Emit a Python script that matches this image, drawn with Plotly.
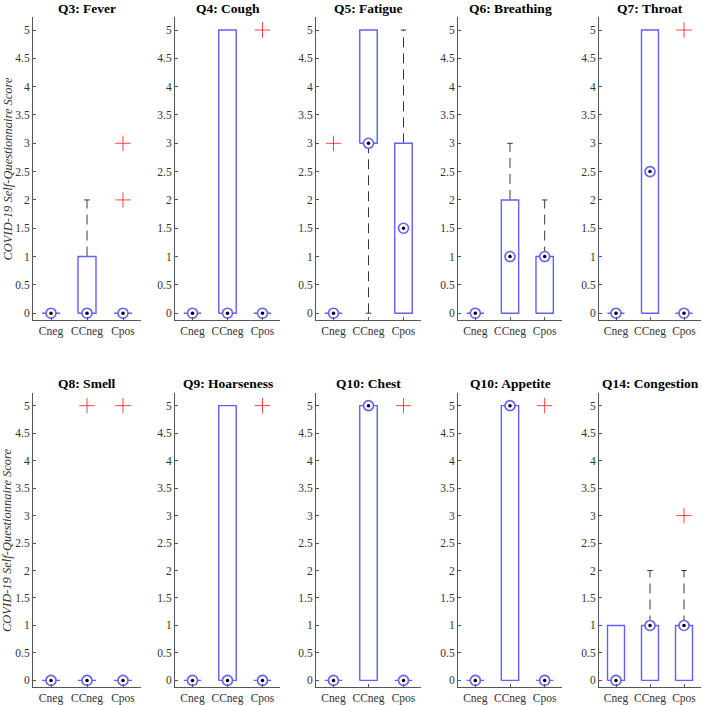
import plotly.graph_objects as go

titles = ["Q3: Fever", "Q4: Cough", "Q5: Fatigue", "Q6: Breathing", "Q7: Throat",
          "Q8: Smell", "Q9: Hoarseness", "Q10: Chest", "Q10: Appetite", "Q14: Congestion"]
groups = ["Cneg", "CCneg", "Cpos"]

q1 = [[0, 0, 0], [0, 0, 0], [0, 3, 0], [0, 0, 0], [0, 0, 0],
      [0, 0, 0], [0, 0, 0], [0, 0, 0], [0, 0, 0], [0, 0, 0]]
q3 = [[0, 1, 0], [0, 5, 0], [0, 5, 3], [0, 2, 1], [0, 5, 0],
      [0, 0, 0], [0, 5, 0], [0, 5, 0], [0, 5, 0], [1, 1, 1]]
median = [[0, 0, 0], [0, 0, 0], [0, 3, 1.5], [0, 1, 1], [0, 2.5, 0],
          [0, 0, 0], [0, 0, 0], [0, 5, 0], [0, 5, 0], [0, 1, 1]]
whisk_lo = [[0, 0, 0], [0, 0, 0], [0, 0, 0], [0, 0, 0], [0, 0, 0],
            [0, 0, 0], [0, 0, 0], [0, 0, 0], [0, 0, 0], [0, 0, 0]]
whisk_hi = [[0, 2, 0], [0, 5, 0], [0, 5, 5], [0, 3, 2], [0, 5, 0],
            [0, 0, 0], [0, 5, 0], [0, 5, 0], [0, 5, 0], [1, 2, 2]]
outliers = [[[], [], [2, 3]], [[], [], [5]], [[3], [], []], [[], [], []], [[], [], [5]],
            [[], [5], [5]], [[], [], [5]], [[], [], [5]], [[], [], [5]], [[], [], [3]]]

ytickvals = [0, 0.5, 1, 1.5, 2, 2.5, 3, 3.5, 4, 4.5, 5]
yticktext = ["0", "0.5", "1", "1.5", "2", "2.5", "3", "3.5", "4", "4.5", "5"]

W, H = 703, 705
BLUE = "#6060ff"
RED = "#ff3030"
half_box = 0.25
half_cap = 0.08

left_px = [33, 175, 316, 458, 599]
width_px = [108, 105, 105, 104, 102]
row_top_px = [17, 393]
row_bot_px = [320, 687]
title_px = [8, 383]
yrange = [-0.12, 5.23]

fig = go.Figure()
annotations = []
layout_axes = {}

for p in range(10):
    r, c = divmod(p, 5)
    idx = p + 1
    xa = "x" if idx == 1 else f"x{idx}"
    ya = "y" if idx == 1 else f"y{idx}"
    xs = [1, 2, 3]

    bx, by = [], []
    wx, wy = [], []
    cx, cy = [], []
    ox, oy = [], []
    for g in range(3):
        x = xs[g]
        bx += [x - half_box, x + half_box, x + half_box, x - half_box, x - half_box, None]
        by += [q1[p][g], q1[p][g], q3[p][g], q3[p][g], q1[p][g], None]
        if whisk_hi[p][g] > q3[p][g]:
            wx += [x, x, None]
            wy += [q3[p][g], whisk_hi[p][g], None]
            cx += [x - half_cap, x + half_cap, None]
            cy += [whisk_hi[p][g], whisk_hi[p][g], None]
        if whisk_lo[p][g] < q1[p][g]:
            wx += [x, x, None]
            wy += [q1[p][g], whisk_lo[p][g], None]
            cx += [x - half_cap, x + half_cap, None]
            cy += [whisk_lo[p][g], whisk_lo[p][g], None]
        for o in outliers[p][g]:
            ox.append(x)
            oy.append(o)

    common = dict(xaxis=xa, yaxis=ya, showlegend=False, hoverinfo="skip")
    fig.add_trace(go.Scatter(x=wx, y=wy, mode="lines",
                             line=dict(color="#3a3a3a", width=1, dash="10px,6px"), **common))
    fig.add_trace(go.Scatter(x=cx, y=cy, mode="lines",
                             line=dict(color="#3a3a3a", width=1), **common))
    fig.add_trace(go.Scatter(x=bx, y=by, mode="lines",
                             line=dict(color=BLUE, width=1.4), **common))
    fig.add_trace(go.Scatter(x=xs, y=median[p], mode="markers",
                             marker=dict(symbol="circle", size=10, color="white",
                                         line=dict(color=BLUE, width=1.6)),
                             cliponaxis=False, **common))
    fig.add_trace(go.Scatter(x=xs, y=median[p], mode="markers",
                             marker=dict(symbol="circle", size=3.5, color="black"),
                             cliponaxis=False, **common))
    fig.add_trace(go.Scatter(x=ox, y=oy, mode="markers",
                             marker=dict(symbol="cross-thin-open", size=11, color=RED,
                                         line=dict(color=RED, width=0.9)),
                             cliponaxis=False, **common))

    x0 = left_px[c] / W
    x1 = min(1.0, (left_px[c] + width_px[c]) / W)
    y0 = 1 - row_bot_px[r] / H
    y1 = 1 - row_top_px[r] / H
    axfont = dict(family="Liberation Serif", size=11.5, color="#333333")
    layout_axes["xaxis" if idx == 1 else f"xaxis{idx}"] = dict(
        domain=[x0, x1], range=[0.5, 3.5], anchor=ya,
        tickvals=xs, ticktext=groups, ticks="inside", ticklen=3,
        tickcolor="#555555", showline=True, linecolor="#555555", linewidth=1,
        showgrid=False, zeroline=False, tickfont=axfont, fixedrange=True)
    layout_axes["yaxis" if idx == 1 else f"yaxis{idx}"] = dict(
        domain=[y0, y1], range=yrange, anchor=xa,
        tickvals=ytickvals, ticktext=yticktext, ticks="inside", ticklen=3,
        tickcolor="#555555", showline=True, linecolor="#555555", linewidth=1,
        showgrid=False, zeroline=False, tickfont=axfont, fixedrange=True)

    annotations.append(dict(
        text=f"<b>{titles[p]}</b>", x=(x0 + x1) / 2, y=1 - title_px[r] / H,
        xref="paper", yref="paper",
        xanchor="center", yanchor="middle", showarrow=False,
        font=dict(family="Liberation Serif", size=13.5, color="black")))

for r in range(2):
    yc = 1 - (row_top_px[r] + row_bot_px[r]) / 2 / H
    annotations.append(dict(
        text="<i>COVID-19 Self-Questionnaire Score</i>", x=7 / W, y=yc,
        xref="paper", yref="paper", xanchor="center", yanchor="middle",
        textangle=-90, showarrow=False,
        font=dict(family="Liberation Serif", size=12.5, color="#333333")))

fig.update_layout(width=W, height=H, margin=dict(l=0, r=0, t=0, b=0),
                  paper_bgcolor="white", plot_bgcolor="white",
                  annotations=annotations, **layout_axes)

fig.write_html("out.html")
